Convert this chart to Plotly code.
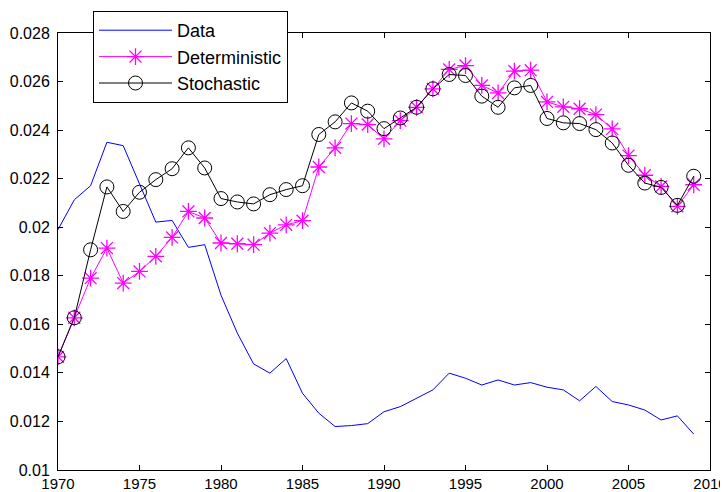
import plotly.graph_objects as go

years = list(range(1970, 2010))

data = [0.0199, 0.02113, 0.02171, 0.0235, 0.02336, 0.0218, 0.02021, 0.02028, 0.01917, 0.01928,
        0.0172, 0.01564, 0.01437, 0.01399, 0.01459, 0.01316, 0.01234, 0.01179, 0.01183, 0.01191,
        0.0124, 0.01261, 0.01296, 0.0133, 0.01399, 0.01378, 0.0135, 0.01371, 0.0135, 0.0136,
        0.01341, 0.0133, 0.01285, 0.01344, 0.01282, 0.01268, 0.01247, 0.01206, 0.01223, 0.01148]

deterministic = [0.01466, 0.01627, 0.0179, 0.01914, 0.0177, 0.01818, 0.0188, 0.01958, 0.02065, 0.02038,
                 0.01935, 0.01932, 0.01928, 0.01976, 0.0201, 0.02027, 0.02248, 0.02327, 0.02427, 0.02423,
                 0.02364, 0.02439, 0.02494, 0.0257, 0.0265, 0.02666, 0.02584, 0.02553, 0.02643, 0.02647,
                 0.02516, 0.02496, 0.02488, 0.02464, 0.02405, 0.02295, 0.02214, 0.02168, 0.02086, 0.02175]

stochastic = [0.01466, 0.01627, 0.01907, 0.02166, 0.02065, 0.02144, 0.02196, 0.02241, 0.02327, 0.02244,
              0.02118, 0.02104, 0.02096, 0.02134, 0.02155, 0.02171, 0.02382, 0.02434, 0.02512, 0.02478,
              0.02406, 0.0245, 0.02494, 0.0257, 0.02629, 0.02625, 0.0254, 0.02494, 0.02574, 0.02584,
              0.02448, 0.0243, 0.02427, 0.02402, 0.02347, 0.02255, 0.02182, 0.02164, 0.0209, 0.0221]

x_ticks = list(range(1970, 2011, 5))
y_ticks = [0.01, 0.012, 0.014, 0.016, 0.018, 0.02, 0.022, 0.024, 0.026, 0.028]

font_family = "Liberation Sans, Arial"

fig = go.Figure()
fig.add_trace(go.Scatter(x=years, y=data, mode="lines", name="Data",
                         line=dict(color="#0000FF", width=1)))
fig.add_trace(go.Scatter(x=years, y=deterministic, mode="lines+markers", name="Deterministic",
                         line=dict(color="#FF00FF", width=1),
                         marker=dict(symbol="asterisk-open", size=14, color="#FF00FF",
                                     line=dict(color="#FF00FF", width=1.3))))
fig.add_trace(go.Scatter(x=years, y=stochastic, mode="lines+markers", name="Stochastic",
                         line=dict(color="#000000", width=1),
                         marker=dict(symbol="circle-open", size=14, color="#000000",
                                     line=dict(color="#000000", width=1))))

axis_common = dict(showgrid=False, zeroline=False, showline=True, linecolor="black", linewidth=1,
                   mirror="ticks", ticks="inside", ticklen=5, tickcolor="black", automargin=False)

# the page body adds an 8px offset; the figure is sized so the plot area lands where the reference has it
fig.update_layout(
    width=728, height=484,
    margin=dict(l=50, r=26, t=25, b=22, autoexpand=False),
    paper_bgcolor="white", plot_bgcolor="white",
    xaxis=dict(range=[1970, 2010], tickvals=x_ticks, ticktext=[str(v) for v in x_ticks],
               ticklabelstandoff=0, tickfont=dict(family=font_family, size=15, color="black"),
               **axis_common),
    yaxis=dict(range=[0.01, 0.028], tickvals=y_ticks, ticktext=[f"{v:g}" for v in y_ticks],
               ticklabelstandoff=4, tickfont=dict(family=font_family, size=16, color="black"),
               **axis_common),
    legend=dict(x=(93 - 58) / 652, y=(470 - 11) / 437, xanchor="left", yanchor="top",
                bgcolor="white", bordercolor="black", borderwidth=1,
                font=dict(family=font_family, size=18, color="black"),
                itemwidth=73),
    showlegend=True,
)

fig.write_html("out.html")
